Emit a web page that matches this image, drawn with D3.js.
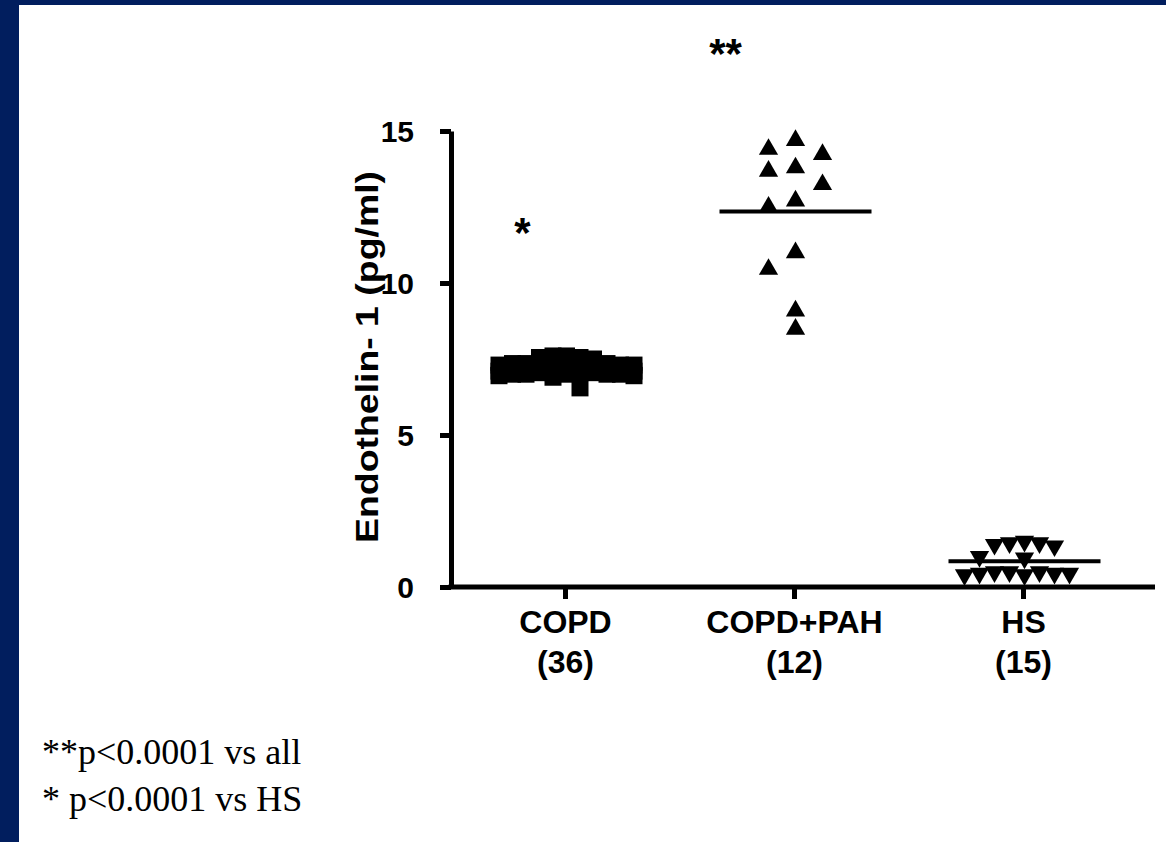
<!DOCTYPE html>
<html>
<head>
<meta charset="utf-8">
<script src="https://cdn.jsdelivr.net/npm/d3@7"></script>
<style>
  body { margin: 0; background: #fff; }
  svg { display: block; }
</style>
</head>
<body>
<div id="chart"></div>
<script>
// groups on the x axis and their sample sizes
const categories = ["COPD", "COPD+PAH", "HS"];
const groupSizes = ["(36)", "(12)", "(15)"];

// endothelin-1 readings (pg/ml)
const copdValues = [7.6, 7.55, 7.5, 7.55, 7.6, 7.35, 7.3, 7.35, 7.3, 7.25, 7.3, 7.35,
  7.3, 7.25, 7.2, 7.2, 7.15, 7.2, 7.1, 7.15, 7.1, 7.05, 7.1, 7.05,
  7.0, 7.05, 7.0, 7.0, 6.95, 7.0, 6.95, 7.0, 7.05, 6.9, 7.1, 6.55];
const pahValues = [14.4, 14.69, 14.23, 13.79, 13.68, 13.24, 12.5, 12.7, 11.0, 10.45, 9.08, 8.48];
const hsValues = [1.5, 1.45, 1.45, 1.4, 1.35, 1.0, 0.95, 0.5, 0.45, 0.5, 0.4, 0.45, 0.5, 0.45, 0.4];

const yTicks = [0, 5, 10, 15];
const significance = ["*", "**", ""];
const footnotes = ["**p<0.0001 vs all", "* p<0.0001 vs HS"];

const W = 1166, H = 842;
const navy = "#011e5e";

const svg = d3.select("#chart").append("svg")
  .attr("width", W)
  .attr("height", H);

// slide frame
svg.append("rect").attr("x", 0).attr("y", 0).attr("width", 19).attr("height", H).attr("fill", navy);
svg.append("rect").attr("x", 0).attr("y", 0).attr("width", W).attr("height", 5).attr("fill", navy);

const plotLeft = 451, plotRight = 1155, plotBottom = 587, plotTop = 131;

const y = d3.scaleLinear().domain([0, 15]).range([plotBottom, plotTop]);
const x = d3.scaleBand().domain(categories).range([plotLeft, 1138]);
const cx = c => x(c) + x.bandwidth() / 2;

// y axis
const yAxis = svg.append("g")
  .attr("transform", `translate(${plotLeft},0)`)
  .call(d3.axisLeft(y).tickValues(yTicks).tickSize(11).tickSizeOuter(0).tickPadding(26));
yAxis.select(".domain").attr("stroke", "#000").attr("stroke-width", 5);
yAxis.selectAll(".tick line").attr("stroke", "#000").attr("stroke-width", 5);
yAxis.selectAll(".tick text")
  .attr("fill", "#000")
  .style("font-family", "'Liberation Sans', Arial, sans-serif")
  .style("font-size", "30px")
  .style("font-weight", "700")
  .attr("dy", "0.36em");

// x axis: ticks from the band scale, base line drawn a bit longer like the original
const xAxis = svg.append("g")
  .attr("transform", `translate(0,${plotBottom})`)
  .call(d3.axisBottom(x).tickSize(12).tickSizeOuter(0).tickFormat(""));
xAxis.select(".domain").remove();
xAxis.selectAll(".tick line").attr("stroke", "#000").attr("stroke-width", 5);
svg.append("line")
  .attr("x1", plotLeft - 2.5).attr("x2", plotRight)
  .attr("y1", plotBottom).attr("y2", plotBottom)
  .attr("stroke", "#000").attr("stroke-width", 5);

// two line category labels
const catLabel = svg.append("g").selectAll("text")
  .data(categories)
  .join("text")
  .attr("text-anchor", "middle")
  .style("font-family", "'Liberation Sans', Arial, sans-serif")
  .style("font-size", "32px")
  .style("font-weight", "700")
  .attr("fill", "#000");
catLabel.append("tspan").attr("x", d => cx(d)).attr("y", 633).text(d => d);
catLabel.append("tspan").attr("x", d => cx(d)).attr("y", 673).text((d, i) => groupSizes[i]);

// y axis title
svg.append("text")
  .attr("transform", "rotate(-90)")
  .attr("x", -357)
  .attr("y", 378)
  .attr("text-anchor", "middle")
  .attr("textLength", 372)
  .attr("lengthAdjust", "spacingAndGlyphs")
  .style("font-family", "'Liberation Sans', Arial, sans-serif")
  .style("font-size", "31px")
  .style("font-weight", "700")
  .attr("fill", "#000")
  .text("Endothelin- 1 (pg/ml)");

// column scatter: each point takes the nearest free lane, lanes overlap when crowded
function laneOffsets(values, step, maxLane, clear) {
  const lanes = [0];
  for (let k = 1; k <= maxLane; k++) lanes.push(-k, k);
  const placed = [];
  const out = new Array(values.length);
  values.map((v, i) => ({ v, i }))
    .sort((a, b) => b.v - a.v)
    .forEach(p => {
      const py = y(p.v);
      let chosen = null, fallback = 0, bestGap = -1;
      for (const k of lanes) {
        const inLane = placed.filter(q => q.k === k);
        const gap = inLane.length ? d3.min(inLane, q => Math.abs(q.py - py)) : Infinity;
        if (gap >= clear) { chosen = k; break; }
        if (gap > bestGap) { bestGap = gap; fallback = k; }
      }
      const k = chosen !== null ? chosen : fallback;
      placed.push({ k, py });
      out[p.i] = k * step;
    });
  return out;
}

const groups = [
  { cat: "COPD", values: copdValues, symbol: d3.symbolSquare, size: 289, rotate: 0, step: 13.5, maxLane: 5, clear: 17 },
  { cat: "COPD+PAH", values: pahValues, symbol: d3.symbolTriangle, size: 160, rotate: 0, step: 27, maxLane: 2, clear: 17 },
  { cat: "HS", values: hsValues, symbol: d3.symbolTriangle, size: 160, rotate: 180, step: 15, maxLane: 5, clear: 16 }
];

groups.forEach(gr => {
  const offs = laneOffsets(gr.values, gr.step, gr.maxLane, gr.clear);
  const center = cx(gr.cat) + 1;
  svg.append("g").selectAll("path")
    .data(gr.values)
    .join("path")
    .attr("d", d3.symbol(gr.symbol, gr.size))
    .attr("transform", (d, i) => `translate(${center + offs[i]},${y(d)}) rotate(${gr.rotate})`)
    .attr("fill", "#000");

  // mean line
  const m = d3.mean(gr.values);
  svg.append("line")
    .attr("x1", center - 76).attr("x2", center + 76)
    .attr("y1", y(m)).attr("y2", y(m))
    .attr("stroke", "#000")
    .attr("stroke-width", 4);
});

// significance marks above the groups
const starLevel = { "COPD": 11.9, "COPD+PAH": 17.8 };
svg.append("g").selectAll("text")
  .data(categories.filter((c, i) => significance[i]))
  .join("text")
  .attr("x", d => d === "COPD" ? cx(d) - 43 : cx(d) - 69)
  .attr("y", d => y(starLevel[d]) + 22)
  .attr("text-anchor", "middle")
  .style("font-family", "'Liberation Sans', Arial, sans-serif")
  .style("font-size", "42px")
  .style("font-weight", "700")
  .attr("fill", "#000")
  .text(d => significance[categories.indexOf(d)]);

// footnotes
svg.append("g").selectAll("text")
  .data(footnotes)
  .join("text")
  .attr("x", 42)
  .attr("y", (d, i) => 764 + i * 47)
  .style("font-family", "'Liberation Serif', 'Times New Roman', serif")
  .style("font-size", "36px")
  .attr("fill", "#000")
  .text(d => d);
</script>
</body>
</html>
